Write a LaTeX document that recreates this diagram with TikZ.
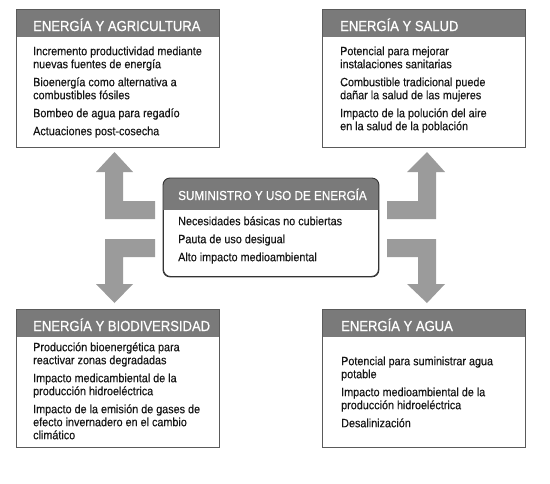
\documentclass[tikz,border=0pt]{standalone}
\usepackage{fontspec}
\setmainfont{Liberation Sans}[FakeStretch=0.9,FakeBold=0.25]
\newfontfamily\hdrfont{Liberation Sans}[FakeStretch=0.9,FakeBold=0.7]
\definecolor{hdr}{HTML}{7A7A7A}
\definecolor{brd}{HTML}{5A5A5A}
\definecolor{cbrd}{HTML}{333333}
\definecolor{arr}{HTML}{9B9B9B}
\definecolor{txt}{HTML}{151515}
\tikzset{
  frame/.style={draw=brd, line width=0.9pt, fill=white, inner sep=0pt, anchor=north west, minimum width=203pt, minimum height=138pt},
  hdrtext/.style={text=white, font=\hdrfont\fontsize{14.5}{16}\selectfont, anchor=base west, inner sep=0pt},
  bodytext/.style={text=txt, font=\fontsize{12}{13}\selectfont, align=left, anchor=north west, inner sep=0pt},
  arrowshape/.style={fill=arr, draw=none}
}
\newcommand{\fs}{\rule{0pt}{10pt}}
\begin{document}
\begin{tikzpicture}[x=1pt,y=-1pt]
\fill[white] (0,0) rectangle (550,483);
\useasboundingbox (0,0) rectangle (550,483);

% ---- corner frames ----
\node[frame] (tl) at (16,9) {};
\node[frame] (tr) at (322,9) {};
\node[frame] (bl) at (16,309) {};
\node[frame] (br) at (322,309) {};
\foreach \b in {tl,tr,bl,br}{
  \fill[hdr] (\b.north west) rectangle ([yshift=-28pt]\b.north east);
  \draw[brd, line width=0.9pt] (\b.north west) rectangle (\b.south east);
}

% ---- centre frame ----
\node[draw=cbrd, line width=0.9pt, fill=white, inner sep=0pt, anchor=north west,
      minimum width=215pt, minimum height=98pt, rounded corners=7pt] (ctr) at (163,178) {};
\begin{scope}
  \clip[rounded corners=7pt] (ctr.north west) rectangle (ctr.south east);
  \fill[hdr] (ctr.north west) rectangle ([yshift=-32pt]ctr.north east);
\end{scope}
\draw[cbrd, line width=0.9pt, rounded corners=7pt] (ctr.north west) rectangle (ctr.south east);

% ---- headers ----
\node[hdrtext] (tlh) at (33,31) {ENERGÍA Y AGRICULTURA};
\node[hdrtext] (trh) at (340,31) {ENERGÍA Y SALUD};
\node[hdrtext] (blh) at (33,331) {ENERGÍA Y BIODIVERSIDAD};
\node[hdrtext] (brh) at (341,331) {ENERGÍA Y AGUA};
\node[hdrtext, font=\hdrfont\fontsize{13}{15}\selectfont] (ctrh) at (178,200) {SUMINISTRO Y USO DE ENERGÍA};

% ---- bodies ----
\node[bodytext] (tlb) at (33,45) {\fs Incremento productividad mediante\\ nuevas fuentes de energía\\[5pt]
  Bioenergía como alternativa a\\ combustibles fósiles\\[5pt]
  Bombeo de agua para regadío\\[5pt]
  Actuaciones post-cosecha};
\node[bodytext] (trb) at (340,45) {\fs Potencial para mejorar\\ instalaciones sanitarias\\[5pt]
  Combustible tradicional puede\\ dañar la salud de las mujeres\\[5pt]
  Impacto de la polución del aire\\ en la salud de la población};
\node[bodytext] (blb) at (33,341) {\fs Producción bioenergética para\\ reactivar zonas degradadas\\[5pt]
  Impacto medicambiental de la\\ producción hidroeléctrica\\[5pt]
  Impacto de la emisión de gases de\\ efecto invernadero en el cambio\\ climático};
\node[bodytext] (brb) at (341,355) {\fs Potencial para suministrar agua\\ potable\\[5pt]
  Impacto medioambiental de la\\ producción hidroeléctrica\\[5pt]
  Desalinización};
\node[bodytext] (ctrb) at (178,215) {\fs Necesidades básicas no cubiertas\\[5pt]
  Pauta de uso desigual\\[5pt]
  Alto impacto medioambiental};

% ---- arrows ----
\fill[arrowshape] (114.5,152) -- (133,172) -- (123,172) -- (123,201) -- (155,201) -- (155,219)
  -- (105,219) -- (105,172) -- (96,172) -- cycle;
\fill[arrowshape] (105,239) -- (155,239) -- (155,257) -- (123,257) -- (123,284) -- (133,284)
  -- (114.5,303) -- (96,284) -- (105,284) -- cycle;
\fill[arrowshape] (427,152) -- (445,172) -- (436,172) -- (436,219) -- (387,219) -- (387,201)
  -- (418,201) -- (418,172) -- (407,172) -- cycle;
\fill[arrowshape] (387,239) -- (436,239) -- (436,284) -- (445,284) -- (427,303) -- (407,284)
  -- (418,284) -- (418,257) -- (387,257) -- cycle;
\end{tikzpicture}
\end{document}
